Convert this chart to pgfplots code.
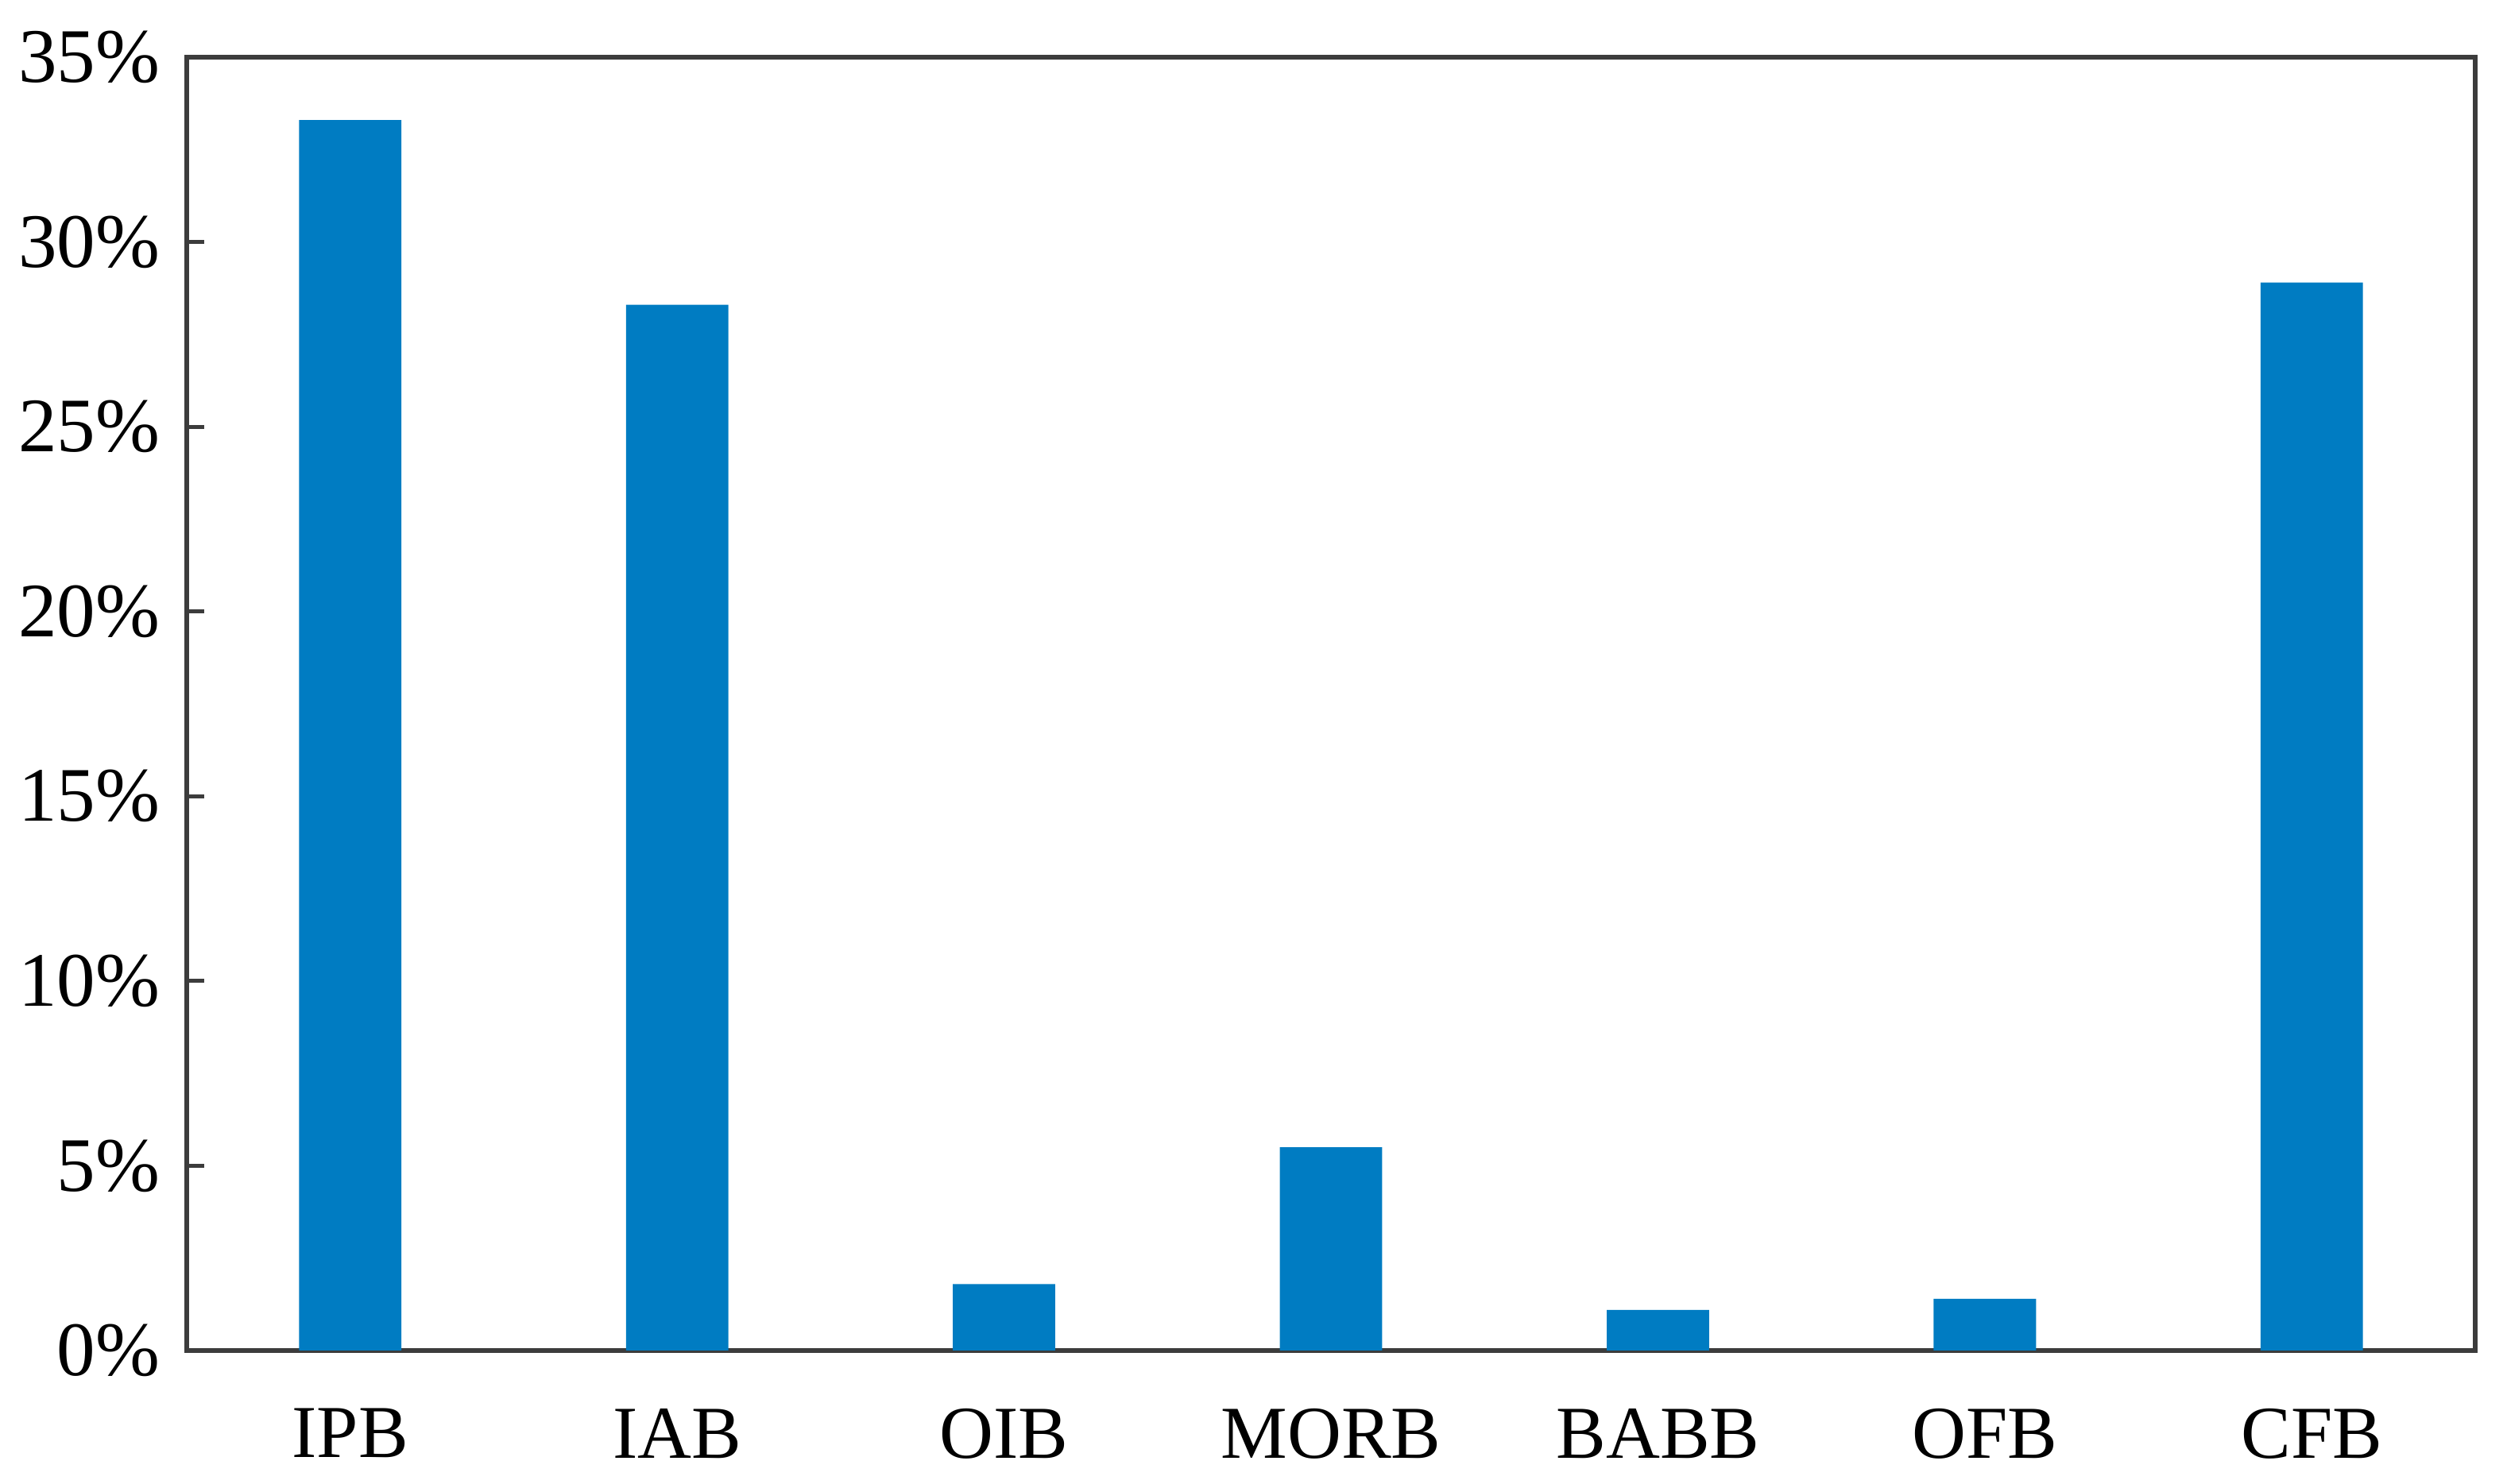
\documentclass[border=0pt]{standalone}
\usepackage{fontspec}
\setmainfont{Liberation Serif}
\usepackage{pgfplots}
\pgfplotsset{compat=1.18}
\definecolor{barblue}{RGB}{0,124,194}
\definecolor{axgray}{RGB}{60,60,60}
\begin{document}
\begin{tikzpicture}
\begin{axis}[
  at={(0,0)}, anchor=south west,
  width=288pt, height=162.8pt, scale only axis,
  xmin=-0.5, xmax=6.5, ymin=0, ymax=35,
  xtick={0,1,2,3,4,5,6},
  xticklabels={IPB,IAB,OIB,MORB,BABB,OFB,CFB},
  ytick={0,5,10,15,20,25,30,35},
  yticklabels={0\%,5\%,10\%,15\%,20\%,25\%,30\%,35\%},
  major x tick style={draw=none},
  ytick pos=left, tick align=inside,
  major tick length=2.2pt,
  tick style={axgray, line width=0.5pt},
  axis line style={axgray, line width=0.6pt},
  ticklabel style={font=\fontsize{9.7}{11}\selectfont, inner sep=0pt},
  yticklabel style={xshift=-3.2pt},
  xticklabel style={yshift=-4.9pt, font=\fontsize{9.4}{11}\selectfont},
  /pgf/number format/assume math mode=true,
  ybar, bar width=0.313,
]
\addplot[fill=barblue, draw=none] coordinates {
  (0,33.3) (1,28.3) (2,1.8) (3,5.5) (4,1.1) (5,1.4) (6,28.9)
};
\end{axis}
\path (-23.5pt,-16.8pt) rectangle (292pt,170pt);
\end{tikzpicture}
\end{document}
